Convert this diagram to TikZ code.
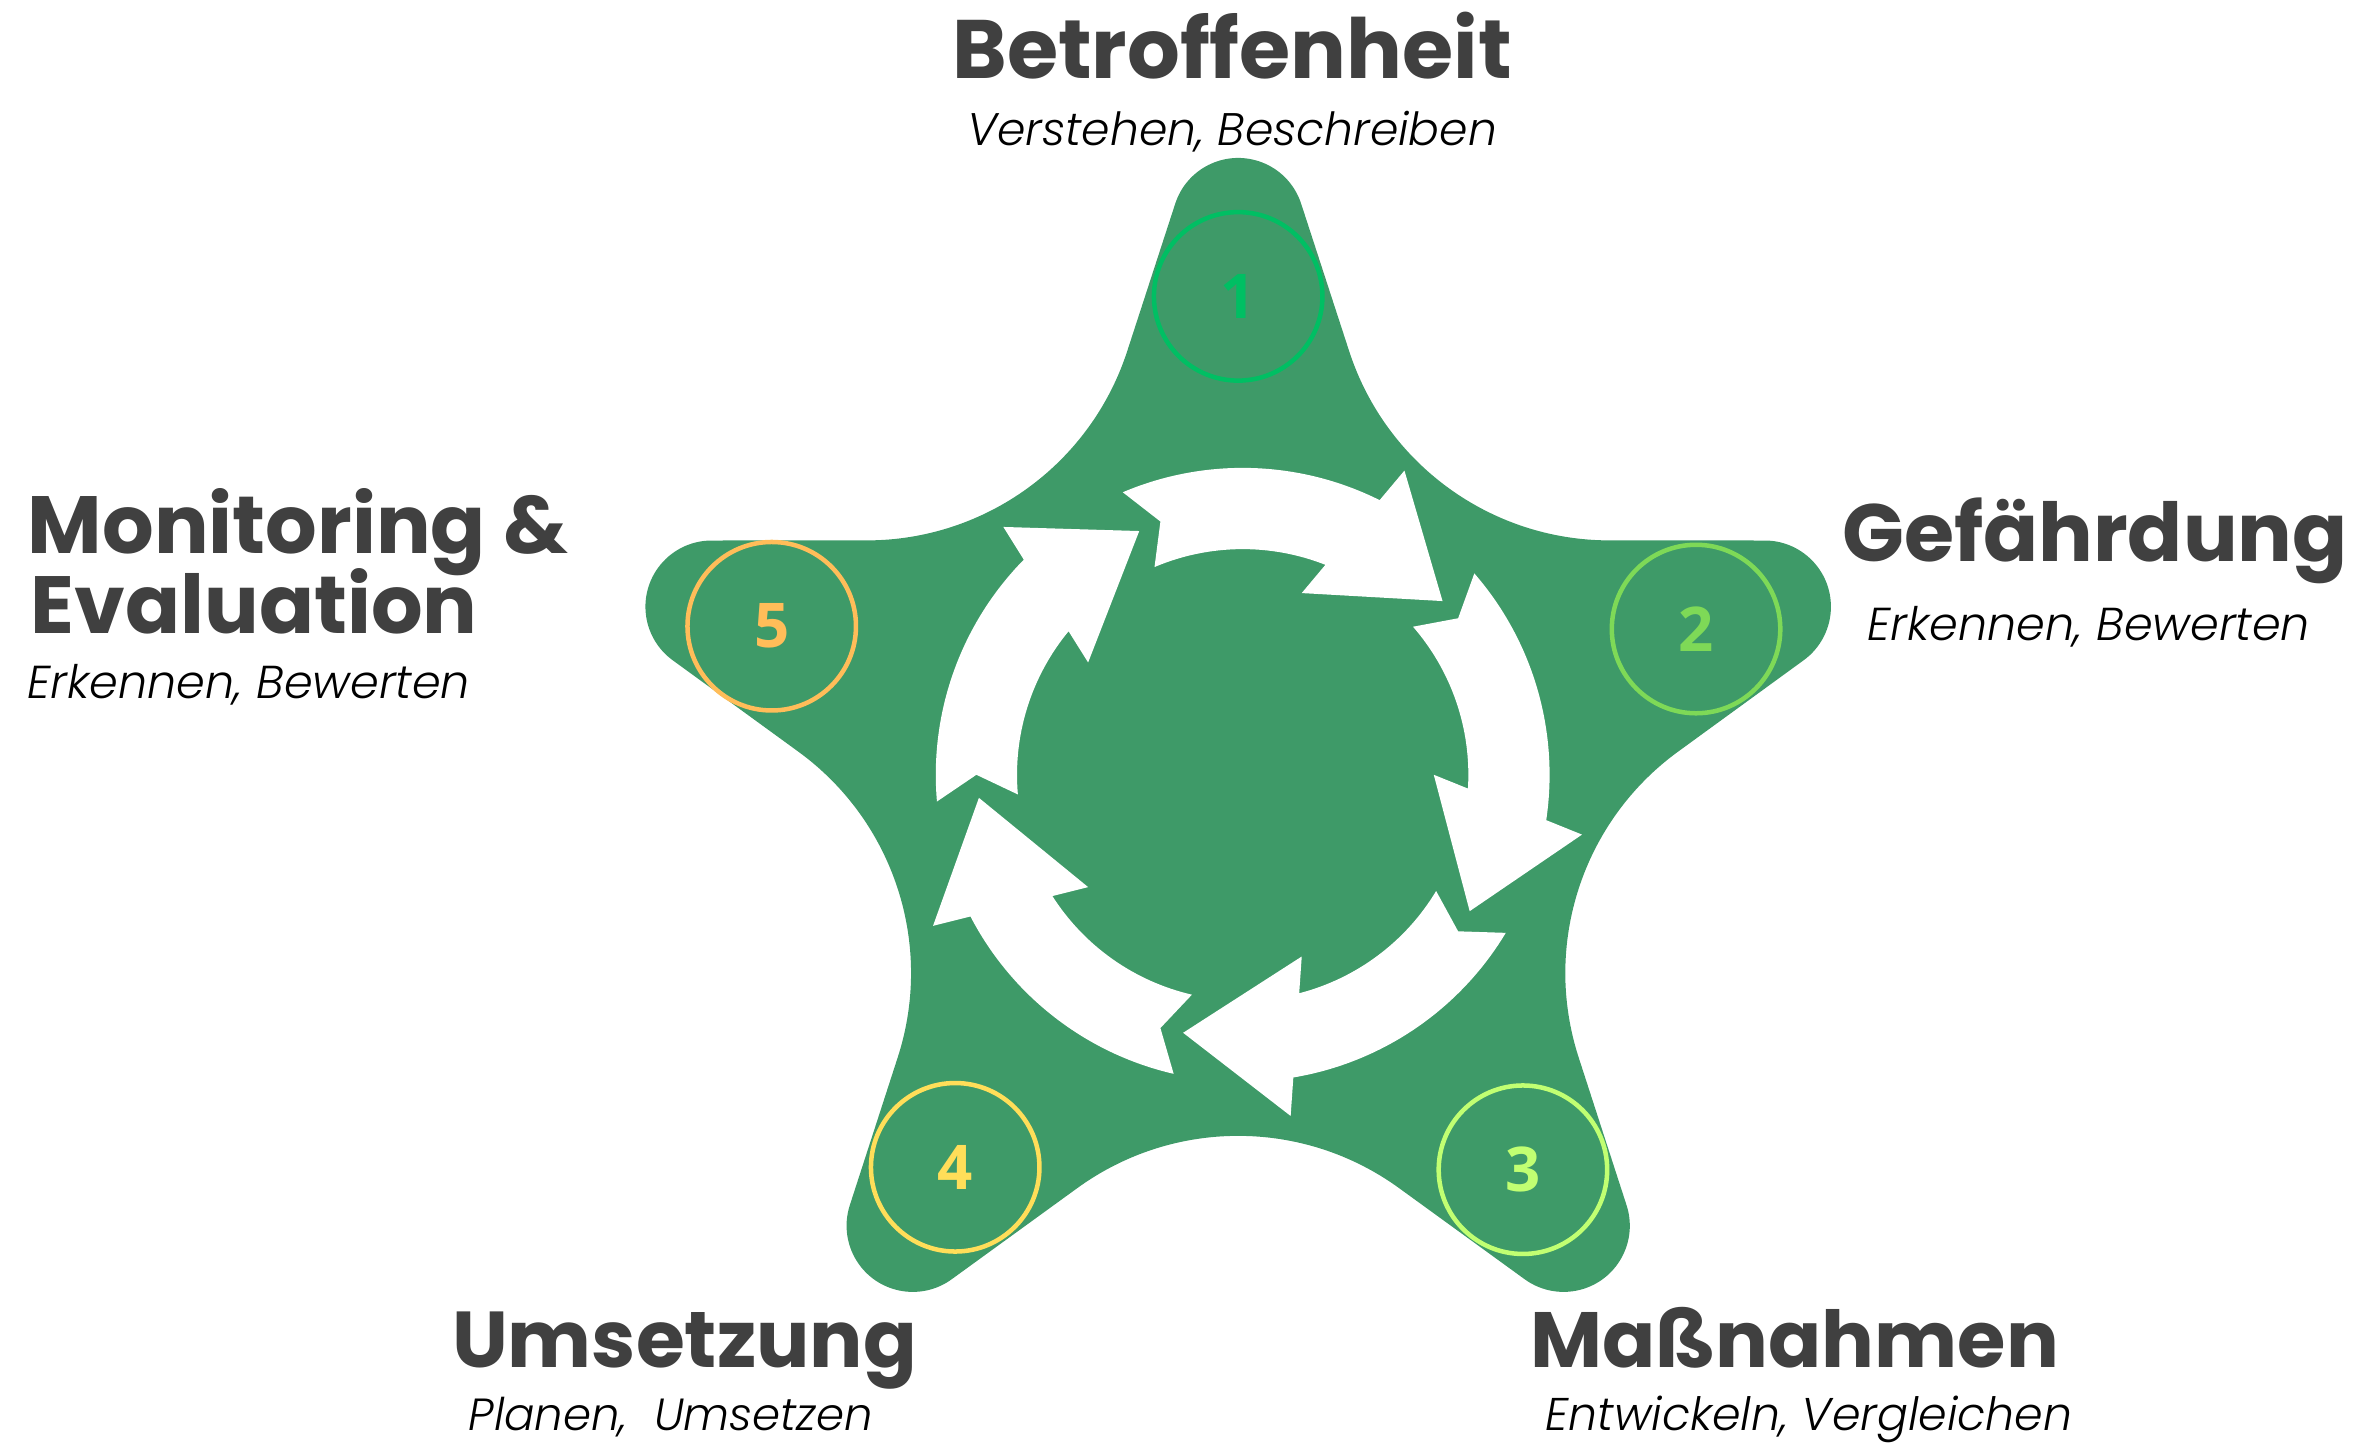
\documentclass[tikz,border=0pt]{standalone}
\usepackage{fontspec}
\setmainfont{Poppins}
\newfontfamily\numfont{Open Sans}
\newfontfamily\subfont{Poppins Light Italic}
\usetikzlibrary{calc}

\definecolor{stargreen}{RGB}{62,154,104}
\definecolor{titlegray}{RGB}{64,64,64}
\definecolor{ringA}{HTML}{00BF63}
\definecolor{ringB}{HTML}{7ED957}
\definecolor{ringC}{HTML}{C1FF72}
\definecolor{ringD}{HTML}{FFDE59}
\definecolor{ringE}{HTML}{FFBD59}

% one drawing unit
\newlength\pxu
\setlength\pxu{0.015cm}
% set a line of text to a given width in drawing units
\newcommand{\fitto}[2]{\resizebox{#1\pxu}{!}{#2}}

% star geometry (drawing units)
\def\dc{368}  % centre of each rounded tip
\def\rt{44}   % radius of a rounded tip
\def\dF{420}  % centre of each concave notch arc
\def\rv{182}  % radius of a notch arc

\begin{document}
\begin{tikzpicture}[x=1\pxu, y=1\pxu,
  title/.style={text=titlegray, font=\fontsize{25}{30}\selectfont\bfseries, inner sep=0pt},
  subtitle/.style={text=black, font=\subfont\fontsize{16}{19}\selectfont, inner sep=0pt},
  ring/.style={circle, draw=#1, text=#1, line width=0.045cm, minimum size=112\pxu,
    inner sep=0pt, font=\numfont\bfseries\fontsize{17.5}{20}\selectfont},
  cyclearrow/.style={fill=white}]

\useasboundingbox (0,0) rectangle (1568,960);

\coordinate (C) at (823,443);
\coordinate (A) at (826,445);

% five-pointed star with rounded tips and concave notches
\begin{scope}[shift={(C)}]
\fill[stargreen] ($(90:\dc)+(162:\rt)$)
  arc[start angle=162, end angle=18, radius=\rt]
  -- ($(54:\dF)+(198:\rv)$) arc[start angle=198, end angle=270, radius=\rv]
  -- ($(18:\dc)+(90:\rt)$) arc[start angle=90, end angle=-54, radius=\rt]
  -- ($(-18:\dF)+(126:\rv)$) arc[start angle=126, end angle=198, radius=\rv]
  -- ($(-54:\dc)+(18:\rt)$) arc[start angle=18, end angle=-126, radius=\rt]
  -- ($(-90:\dF)+(54:\rv)$) arc[start angle=54, end angle=126, radius=\rv]
  -- ($(-126:\dc)+(-54:\rt)$) arc[start angle=-54, end angle=-198, radius=\rt]
  -- ($(-162:\dF)+(-18:\rv)$) arc[start angle=-18, end angle=54, radius=\rv]
  -- ($(162:\dc)+(234:\rt)$) arc[start angle=234, end angle=90, radius=\rt]
  -- ($(126:\dF)+(270:\rv)$) arc[start angle=270, end angle=342, radius=\rv]
  -- cycle;
\end{scope}

% ring of five clockwise arrows
\begin{scope}[shift={(A)}]
\foreach \k in {0,...,4} {
  \fill[cyclearrow, rotate=-72*\k]
    (113:204) arc[start angle=113, end angle=63.5, radius=204]
    -- (62:229) -- (41:176) -- (72:127) -- (68.5:150)
    arc[start angle=68.5, end angle=113, radius=150]
    -- (108:177) -- cycle;
}
\end{scope}

% numbered rings on the tips
\node[ring=ringA] (n1) at ($(C)+(90:320)$) {1};
\node[ring=ringB] (n2) at ($(C)+(18:320)$) {2};
\node[ring=ringC] (n3) at ($(C)+(-54:322)$) {3};
\node[ring=ringD] (n4) at ($(C)+(-126:320)$) {4};
\node[ring=ringE] (n5) at ($(C)+(162:326)$) {5};

% labels
\node[title, anchor=base] (t1) at (819,908) {\fitto{372}{Betroffenheit}};
\node[subtitle, anchor=base] (s1) at (819,863) {\fitto{352}{Verstehen, Beschreiben}};

\node[title, anchor=base west] (t2) at (1224,587) {\fitto{336}{Gefährdung}};
\node[subtitle, anchor=base west] (s2) at (1241,534) {\fitto{294}{Erkennen, Bewerten}};

\node[title, anchor=base west] (t5a) at (18,592) {\fitto{359}{Monitoring \&}};
\node[title, anchor=base west] (t5b) at (20,539) {\fitto{297}{Evaluation}};
\node[subtitle, anchor=base west] (s5) at (18,496) {\fitto{294}{Erkennen, Bewerten}};

\node[title, anchor=base west] (t4) at (300,51) {\fitto{309}{Umsetzung}};
\node[subtitle, anchor=base west] (s4) at (311,9) {\fitto{269}{Planen,\ \ Umsetzen}};

\node[title, anchor=base west] (t3) at (1017,51) {\fitto{351}{Maßnahmen}};
\node[subtitle, anchor=base west] (s3) at (1027,9) {\fitto{350}{Entwickeln, Vergleichen}};
\end{tikzpicture}
\end{document}
